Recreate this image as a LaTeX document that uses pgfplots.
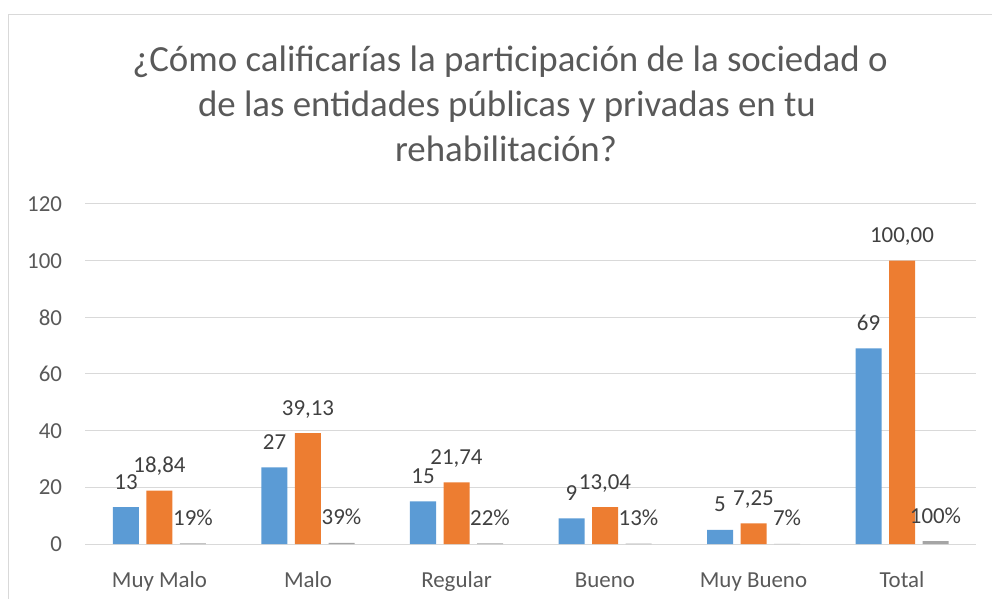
\documentclass[border=0pt]{standalone}
\usepackage{fontspec}
\setmainfont{Carlito}
\usepackage{pgfplots}
\pgfplotsset{compat=1.18}
\definecolor{cblue}{HTML}{5B9BD5}
\definecolor{corange}{HTML}{ED7D31}
\definecolor{cgray}{HTML}{A5A5A5}
\definecolor{tgray}{HTML}{595959}
\definecolor{dgray}{HTML}{404040}
\definecolor{grid}{HTML}{D9D9D9}
\begin{document}
\begin{tikzpicture}
\useasboundingbox (-85.25bp,-55bp) rectangle (906.75bp,544bp);
\draw[color=grid, line width=1bp] (-76.75bp,-60bp) -- (-76.75bp,529.5bp) -- (920bp,529.5bp);
\node[anchor=base, text=tgray, font=\fontsize{37}{45}\selectfont, inner sep=0pt] at (424.75bp,472.3bp) {¿Cómo calificarías la participación de la sociedad o};
\node[anchor=base, text=tgray, font=\fontsize{37}{45}\selectfont, inner sep=0pt] at (421.75bp,427.3bp) {de las entidades públicas y privadas en tu};
\node[anchor=base, text=tgray, font=\fontsize{37}{45}\selectfont, inner sep=0pt] at (420.75bp,382.3bp) {rehabilitación?};
\begin{axis}[
  scale only axis,
  width=891bp, height=340bp,
  xmin=-0.5, xmax=5.5, ymin=0, ymax=120,
  ytick={0,20,...,120}, xtick={0,...,5},
  xticklabels={Muy Malo,Malo,Regular,Bueno,Muy Bueno,Total},
  /pgf/number format/assume math mode=true,
  axis line style={draw=none}, tick style={draw=none},
  ymajorgrids, grid style={color=grid, line width=1bp},
  xticklabel style={anchor=base, inner sep=0pt, yshift=-39bp, font=\fontsize{23}{27}\selectfont, text=tgray},
  yticklabel style={anchor=east, inner sep=0pt, xshift=-23bp, font=\fontsize{23}{27}\selectfont, text=tgray},
  ybar=7.5bp, bar width=26bp,
  clip=false,
  nodes near coords, point meta=explicit symbolic,
  every node near coord/.append style={font=\fontsize{23}{27}\selectfont, text=dgray, anchor=base, yshift=18bp, inner sep=0pt},
]
\addplot[fill=cblue, draw=none] coordinates {(0,13)[13] (1,27)[27] (2,15)[15] (3,9)[9] (4,5)[5] (5,69)[69]};
\addplot[fill=corange, draw=none] coordinates {(0,18.84)[18,84] (1,39.13)[39,13] (2,21.74)[21,74] (3,13.04)[13,04] (4,7.25)[7,25] (5,100)[100,00]};
\addplot[fill=cgray, draw=none] coordinates {(0,0.19)[19\%] (1,0.39)[39\%] (2,0.22)[22\%] (3,0.13)[13\%] (4,0.07)[7\%] (5,1)[100\%]};
\end{axis}
\end{tikzpicture}
\end{document}
